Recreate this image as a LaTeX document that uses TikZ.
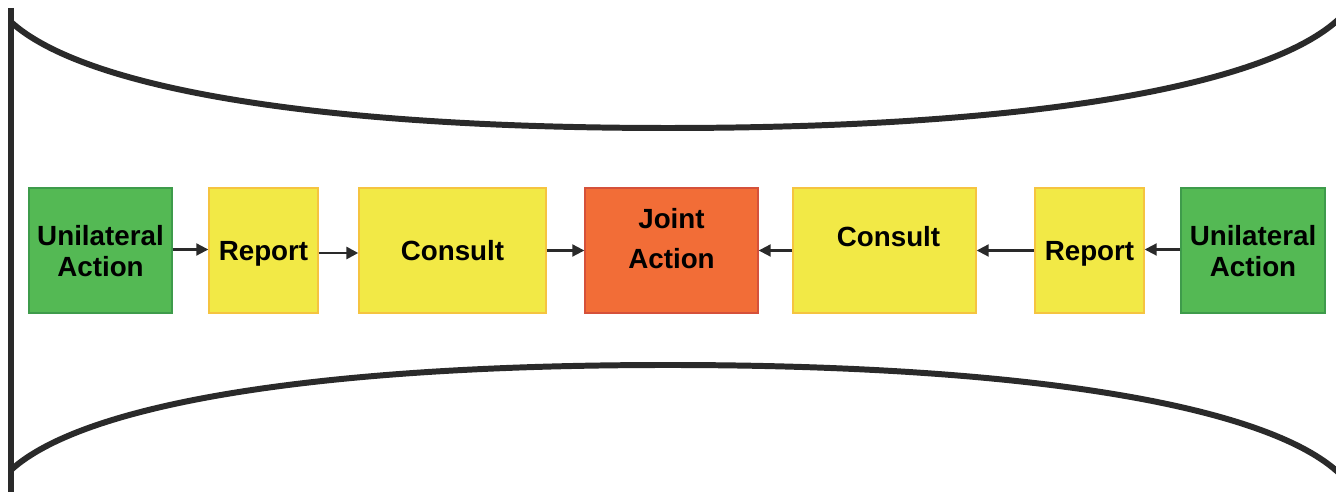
\documentclass[tikz,border=0pt]{standalone}
\usepackage{fontspec}
\setmainfont{Liberation Sans}
\usetikzlibrary{arrows.meta,calc}
\definecolor{gfill}{HTML}{54B954}
\definecolor{gline}{HTML}{3E9B4B}
\definecolor{yfill}{HTML}{F2E946}
\definecolor{yline}{HTML}{F5C440}
\definecolor{ofill}{HTML}{F26D37}
\definecolor{oline}{HTML}{D5513A}
\definecolor{ink}{HTML}{2A2A2A}
\begin{document}
\begin{tikzpicture}[x=0.02cm,y=-0.02cm,
  box/.style={draw, line width=0.8pt, minimum height=2.5cm, inner sep=0pt, align=center,
    text depth=0pt, font=\bfseries\fontsize{15.8}{17.6}\selectfont},
  gbox/.style={box, fill=gfill, draw=gline},
  ybox/.style={box, fill=yfill, draw=yline},
  obox/.style={box, fill=ofill, draw=oline},
  lbl/.style={inner sep=0pt, align=center, font=\bfseries\fontsize{15.8}{23.2}\selectfont},
  conn/.style={draw=ink, line width=1.15pt, -{Triangle[length=0.24cm,width=0.24cm]}},
  rim/.style={draw=ink, line width=3.4pt}]
\useasboundingbox (0,0) rectangle (1336,492);
% outer shape
\draw[rim] (11,8) -- (11,500);
\draw[rim] (11,22) .. controls (80,85) and (300,128) .. (668,128)
  .. controls (1036,128) and (1270,85) .. (1340,18);
\draw[rim] (11,470) .. controls (80,407) and (300,365) .. (668,365)
  .. controls (1036,365) and (1270,407) .. (1340,474);
% boxes
\node[gbox, minimum width=2.86cm] (ul) at (100.5,250.5) {Unilateral\\Action};
\node[ybox, minimum width=2.18cm] (rl) at (263.5,250.5) {Report};
\node[ybox, minimum width=3.74cm] (cl) at (452.5,250.5) {Consult};
\node[obox, minimum width=3.46cm] (ja) at (671.5,250.5) {};
\node[lbl] (jal) at ($(ja.center)+(0,-12)$) {Joint\\Action};
\node[ybox, minimum width=3.66cm] (cr) at (884.5,250.5) {};
\node[lbl] (crl) at ($(cr.center)+(4,-14)$) {Consult};
\node[ybox, minimum width=2.18cm] (rr) at (1089.5,250.5) {Report};
\node[gbox, minimum width=2.88cm] (ur) at (1253,250.5) {Unilateral\\Action};
% connectors
\draw[conn] ([yshift=0.02cm]ul.east) -- ([yshift=0.02cm]rl.west);
\draw[conn, line width=1.6pt] ([yshift=-0.05cm]rl.east) -- ([yshift=-0.05cm]cl.west);
\draw[conn] (cl.east) -- (ja.west);
\draw[conn] (cr.west) -- (ja.east);
\draw[conn] (rr.west) -- (cr.east);
\draw[conn] ([yshift=0.02cm]ur.west) -- ([yshift=0.02cm]rr.east);
\end{tikzpicture}
\end{document}
